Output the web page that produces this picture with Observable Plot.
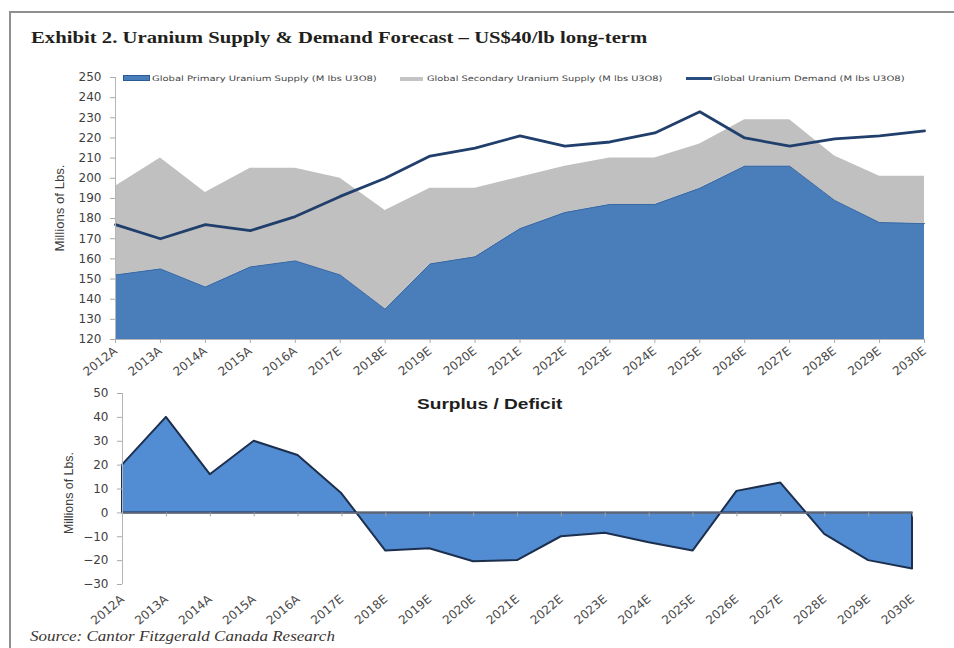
<!DOCTYPE html>
<html><head><meta charset="utf-8">
<script src="https://cdn.jsdelivr.net/npm/d3@7"></script>
<script src="https://cdn.jsdelivr.net/npm/@observablehq/plot@0.6"></script>
<style>
body{margin:0;background:#fff;}
#wrap{position:relative;width:954px;height:648px;overflow:hidden;background:#fff;}
.abs{position:absolute;white-space:nowrap;line-height:1;}
#border{position:absolute;left:9px;top:11px;width:1000px;height:700px;border-left:2.5px solid #8f8f8f;border-top:2.5px solid #8f8f8f;}
#title{left:31px;top:38px;font-family:"Liberation Serif",serif;font-weight:bold;font-size:16.5px;color:#231f1c;transform-origin:left center;}
#caption{left:30px;top:637px;font-family:"Liberation Serif",serif;font-style:italic;font-size:14px;color:#3a3430;transform-origin:left center;}
.leg{font-family:"DejaVu Sans",sans-serif;font-size:7.5px;color:#454545;transform-origin:left center;}
.ylab{font-family:"Liberation Sans Narrow","Liberation Sans",sans-serif;font-size:13px;color:#3c3c3c;transform-origin:center center;}
#sd{left:417px;top:404px;font-family:"Liberation Sans",sans-serif;font-weight:bold;font-size:14px;color:#1e1e1e;transform-origin:left center;}
#top,#bottom{position:absolute;left:0;}
#top{top:0;}
#bottom{top:380px;}
svg{overflow:visible;}
</style></head><body>
<div id="wrap">
  <div id="border"></div>
  <div id="top"></div>
  <div id="bottom"></div>
  <div id="title" class="abs" data-w="616" data-t="translateY(-50%)">Exhibit 2. Uranium Supply &amp; Demand Forecast – US$40/lb long-term</div>
  <div class="abs" style="left:123px;top:75px;width:25px;height:4px;background:#4a7ebb;border:1px solid #2c5a94;"></div>
  <div class="abs leg" style="left:152px;top:78.5px;" data-w="225" data-t="translateY(-50%)">Global Primary Uranium Supply (M lbs U3O8)</div>
  <div class="abs" style="left:400px;top:76.5px;width:23px;height:4px;background:#c4c4c4;"></div>
  <div class="abs leg" style="left:427px;top:78.5px;" data-w="236" data-t="translateY(-50%)">Global Secondary Uranium Supply (M lbs U3O8)</div>
  <div class="abs" style="left:686px;top:77px;width:26px;height:3px;background:#2a4d7f;"></div>
  <div class="abs leg" style="left:713px;top:78.5px;" data-w="192" data-t="translateY(-50%)">Global Uranium Demand (M lbs U3O8)</div>
  <div class="abs ylab" style="left:59px;top:208px;" data-w="87" data-t="translate(-50%,-50%) rotate(-90deg)">Millions of Lbs.</div>
  <div class="abs ylab" style="left:68px;top:493px;" data-w="82" data-t="translate(-50%,-50%) rotate(-90deg)">Millions of Lbs.</div>
  <div id="sd" class="abs" data-w="146" data-t="translateY(-50%)">Surplus / Deficit</div>
  <div id="caption" class="abs" data-w="305" data-t="translateY(-50%)">Source: Cantor Fitzgerald Canada Research</div>
</div>
<script>
// ---- data ----
const years = ["2012A","2013A","2014A","2015A","2016A","2017E","2018E","2019E","2020E","2021E","2022E","2023E","2024E","2025E","2026E","2027E","2028E","2029E","2030E"];
const primarySupply = [152,155,146,156,159,152,135,157.5,161,175,183,187,187,195,206,206,189,178,177.5];
const secondarySupply = [44,55,47,49,46,48,49,37.5,34,25.5,23,23,23,22,23,23,22,23,23.5];
const demand = [177,170,177,174,181,191,200,211,215,221,216,218,222.5,233,220,216,219.5,221,223.5];
const surplus = [20,40,16,30,24,8,-16,-15,-20.5,-20,-10,-8.5,-12.5,-16,9,12.5,-9,-20,-23.5];
const topTicks = [120,130,140,150,160,170,180,190,200,210,220,230,240,250];
const bottomTicks = [-30,-20,-10,0,10,20,30,40,50];
const seriesNames = ["Primary","Secondary"];

// ---- tables ----
const supplyRows = [];
years.forEach((yr,i)=>{
  supplyRows.push({year:yr, series:"Primary", value:primarySupply[i]});
  supplyRows.push({year:yr, series:"Secondary", value:secondarySupply[i]});
});
const primaryRows = years.map((yr,i)=>({year:yr, value:primarySupply[i]}));
const demandRows = years.map((yr,i)=>({year:yr, value:demand[i]}));
const surplusRows = years.map((yr,i)=>({year:yr, value:surplus[i]}));

const font = {fontFamily:"DejaVu Sans, sans-serif", fontSize:"11.5px", color:"#3f3f3f", background:"transparent", overflow:"visible"};

const topChart = Plot.plot({
  width:954, height:390, marginTop:77, marginBottom:51, marginLeft:115, marginRight:30,
  style:font,
  x:{type:"point", domain:years, padding:0, round:false},
  y:{domain:[120,250]},
  color:{domain:seriesNames, range:["#4a7ebb","#c0c0c0"]},
  marks:[
    Plot.areaY(supplyRows, {x:"year", y:"value", fill:"series", order:seriesNames, clip:true}),
    Plot.lineY(primaryRows, {x:"year", y:"value", stroke:"#3b69a2", strokeWidth:1}),
    Plot.lineY(demandRows, {x:"year", y:"value", stroke:"#213f6c", strokeWidth:2.8}),
    Plot.ruleX([years[0]], {stroke:"#b5b5b5"}),
    Plot.ruleY([120], {stroke:"#b5b5b5"}),
    Plot.axisY({ticks:topTicks, tickSize:5, tickPadding:9, stroke:"#aaa", fill:"#3f3f3f", fontSize:12, label:null}),
    Plot.axisX({tickSize:4, tickPadding:6, tickRotate:-38, stroke:"#aaa", fill:"#4a4a4a", fontSize:12, label:null})
  ]
});
document.getElementById("top").appendChild(topChart);

const bottomChart = Plot.plot({
  width:954, height:268, marginTop:13, marginBottom:64, marginLeft:122, marginRight:42,
  style:font,
  x:{type:"point", domain:years, padding:0, round:false},
  y:{domain:[-30,50]},
  marks:[
    Plot.areaY(surplusRows, {x:"year", y:"value", fill:"#528dd3", stroke:"#1d2f4e", strokeWidth:2, strokeLinejoin:"round"}),
    Plot.ruleY([0], {stroke:"#6f7686", strokeWidth:1.5}),
    Plot.ruleX(years, {y1:0, y2:0, insetBottom:-4, stroke:"#a0a0a0"}),
    Plot.ruleX([years[0]], {stroke:"#b5b5b5"}),
    Plot.axisY({ticks:bottomTicks, tickSize:5, tickPadding:9, stroke:"#aaa", fill:"#3f3f3f", fontSize:12, label:null}),
    Plot.axisX({tickSize:0, tickPadding:13, tickRotate:-40, fill:"#4a4a4a", fontSize:12, label:null})
  ]
});
document.getElementById("bottom").appendChild(bottomChart);

// fit text widths
document.querySelectorAll("[data-w]").forEach(el=>{
  const w = +el.dataset.w, base = el.dataset.t || "";
  const s = w / el.offsetWidth;
  el.style.transform = base + " scaleX(" + s.toFixed(3) + ")";
});
</script>
</body></html>
